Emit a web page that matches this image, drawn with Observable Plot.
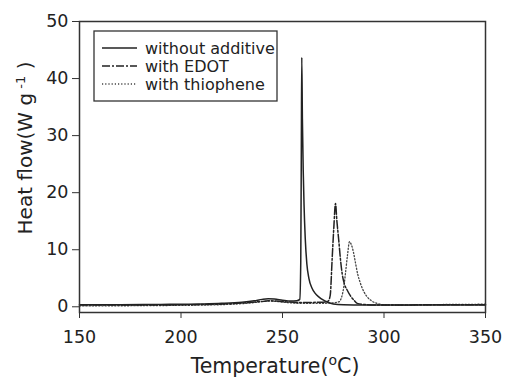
<!DOCTYPE html>
<html>
<head>
<meta charset="utf-8">
<script src="https://cdn.jsdelivr.net/npm/d3@7"></script>
<script src="https://cdn.jsdelivr.net/npm/@observablehq/plot@0.6"></script>
<style>
  html, body { margin: 0; padding: 0; background: #fff; }
  #chart { position: relative; width: 507px; height: 378px; }
  svg { font-family: "DejaVu Sans", Verdana, sans-serif; }
</style>
</head>
<body>
<div id="chart"></div>
<script>
// Series: without additive (solid)
const plainT = [150,170,190,210,220,230,236,240,243,246,250,254,257,258.5,259.0,259.3,259.5,259.8,260.2,260.6,261.2,262,263,264.5,266,268,270,272,275,280,290,300,320,350];
const plainV = [0.35,0.38,0.42,0.5,0.6,0.8,1.05,1.3,1.4,1.35,1.15,1.0,1.05,1.3,8,30,43.7,33,24,18,12,7.5,5,3.3,2.4,1.7,1.2,0.85,0.5,0.35,0.3,0.3,0.3,0.32];
// with EDOT (dash-dot)
const edotT = [150,180,210,225,235,240,243,247,252,260,268,271,272.5,273.5,274.5,275.3,276.1,276.8,277.7,278.5,279.4,280.5,281.9,283.5,285.1,286.8,290,300,320,350];
const edotV = [0.3,0.3,0.4,0.55,0.8,0.95,1.05,1.0,0.85,0.75,0.8,0.85,1.0,2,8.7,14,18.1,15,11.7,8.5,5.8,4,2.9,1.9,1.2,0.6,0.4,0.3,0.35,0.35];
// with thiophene (dotted)
const thioT = [150,180,210,225,235,240,243,247,252,260,268,275,278,278.6,279.5,280.2,281,282,283,284,285,286,287,288.4,290,291.7,294,296.6,300,310,330,350];
const thioV = [0.15,0.2,0.3,0.45,0.7,0.9,1.0,0.95,0.75,0.6,0.6,0.7,0.9,1.2,2.2,3.5,5.8,9,11.4,10.8,9.5,7.6,5.8,4.1,2.7,1.75,1.0,0.6,0.35,0.3,0.4,0.45];

const seriesNames = ["without additive", "with EDOT", "with thiophene"];
const xTicks = [150, 200, 250, 300, 350];
const yTicks = [0, 10, 20, 30, 40, 50];

const toRows = (T, V) => T.map((t, i) => ({t, v: V[i]}));
const plain = toRows(plainT, plainV);
const edot = toRows(edotT, edotV);
const thio = toRows(thioT, thioV);

const DASHDOT = "8,2,2,2";
const DOTTED = "1.2,2";

const plot = Plot.plot({
  width: 507,
  height: 378,
  marginLeft: 79,
  marginRight: 22,
  marginTop: 21,
  marginBottom: 66,
  style: {fontFamily: "'DejaVu Sans', Verdana, sans-serif", color: "#222", background: "#fff"},
  x: {domain: [150, 350], ticks: xTicks, label: null},
  y: {domain: [-1, 50], ticks: yTicks, label: null},
  marks: [
    Plot.line(thio, {x: "t", y: "v", stroke: "#444", strokeWidth: 1.3, strokeDasharray: DOTTED, curve: "monotone-x"}),
    Plot.line(edot, {x: "t", y: "v", stroke: "#222", strokeWidth: 1.5, strokeDasharray: DASHDOT, curve: "monotone-x"}),
    Plot.line(plain, {x: "t", y: "v", stroke: "#222", strokeWidth: 1.5, curve: "monotone-x"}),
    Plot.frame({stroke: "#333", strokeWidth: 1.5}),
    Plot.axisX({ticks: xTicks, tickSize: 6, tickPadding: 12, fontSize: 17.5, stroke: "#333", label: null}),
    Plot.axisY({ticks: yTicks, tickSize: 7, tickPadding: 4, fontSize: 17.5, stroke: "#333", label: null})
  ]
});

document.getElementById("chart").appendChild(plot);

const svg = d3.select(plot);
// axis titles
const xl = svg.append("text")
  .attr("x", 275).attr("y", 373)
  .attr("text-anchor", "middle")
  .attr("font-size", 20.5).attr("fill", "#222");
xl.append("tspan").text("Temperature(");
xl.append("tspan").attr("baseline-shift", "super").attr("font-size", 14).text("o");
xl.append("tspan").text("C)");

const yl = svg.append("text")
  .attr("transform", "translate(32,148) rotate(-90)")
  .attr("text-anchor", "middle")
  .attr("font-size", 20).attr("fill", "#222");
yl.append("tspan").text("Heat flow(W g");
yl.append("tspan").attr("baseline-shift", "super").attr("font-size", 13).text(" -1");
yl.append("tspan").text(" )");

// legend
const lg = svg.append("g");
lg.append("rect").attr("x", 94).attr("y", 31).attr("width", 183).attr("height", 70)
  .attr("fill", "#fff").attr("stroke", "#333").attr("stroke-width", 1.3);
const styles = [
  {stroke: "#222", dash: null, w: 1.5},
  {stroke: "#222", dash: DASHDOT, w: 1.5},
  {stroke: "#444", dash: DOTTED, w: 1.3}
];
seriesNames.forEach((name, i) => {
  const y = 48 + i * 18;
  lg.append("line").attr("x1", 102).attr("x2", 137).attr("y1", y).attr("y2", y)
    .attr("stroke", styles[i].stroke).attr("stroke-width", styles[i].w)
    .attr("stroke-dasharray", styles[i].dash);
  lg.append("text").attr("x", 145).attr("y", y).attr("dy", "0.35em")
    .attr("text-anchor", "start")
    .attr("font-size", 16).attr("fill", "#222").text(name);
});
</script>
</body>
</html>
